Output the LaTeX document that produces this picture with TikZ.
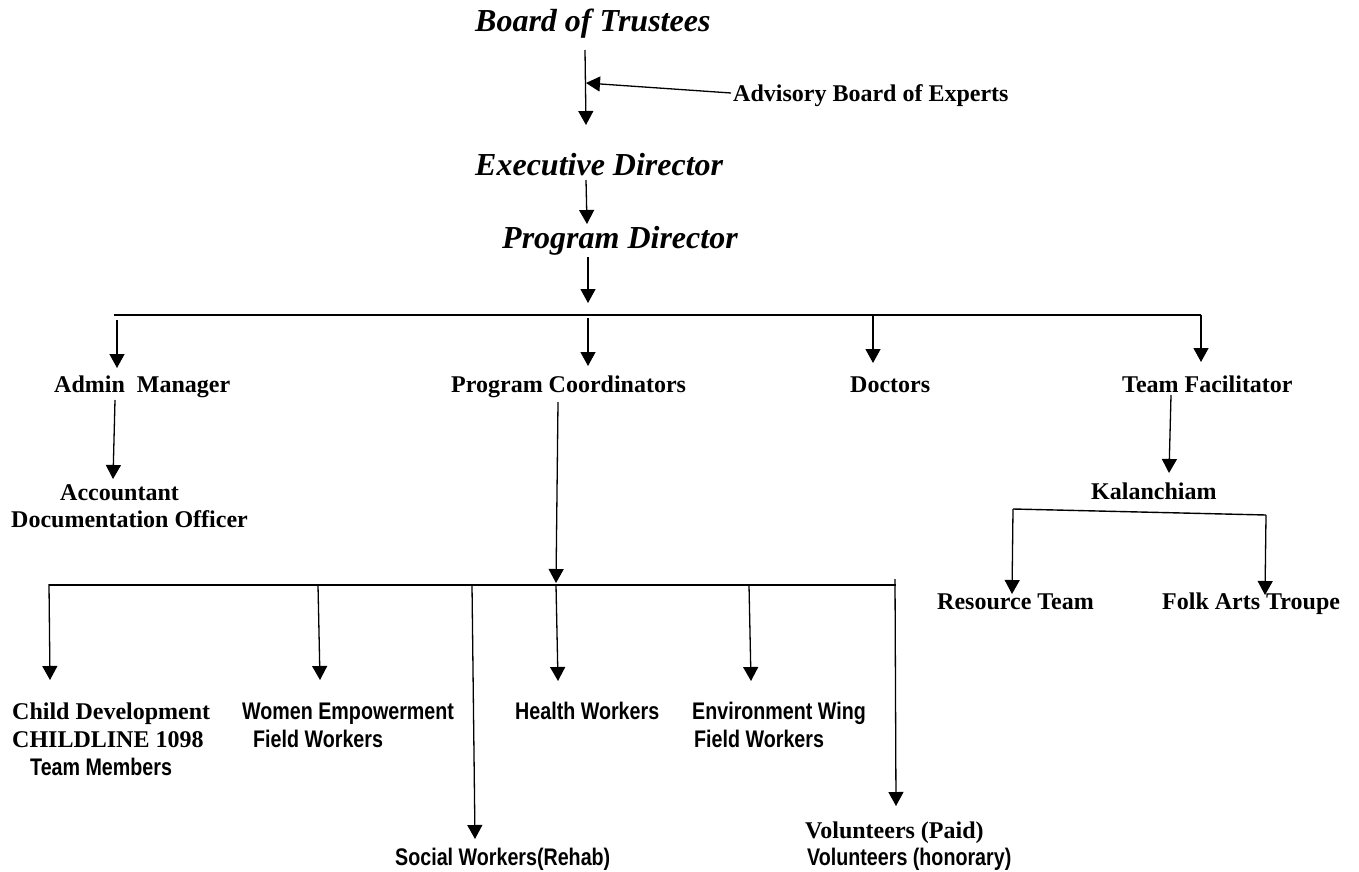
\documentclass[tikz,border=0pt]{standalone}
\usepackage{fontspec}
\setmainfont{Liberation Serif}
\newfontfamily\nsans{Liberation Sans}[FakeStretch=0.82]
\usetikzlibrary{arrows.meta}
\tikzset{
  lbl/.style={anchor=base west, inner sep=0pt, font=\fontsize{24pt}{28pt}\selectfont\bfseries},
  slbl/.style={anchor=base west, inner sep=0pt, font=\fontsize{24pt}{28pt}\selectfont\nsans\bfseries},
  ttl/.style={anchor=base west, inner sep=0pt, font=\fontsize{32pt}{36pt}\selectfont\bfseries\itshape},
  arr/.style={line width=1.3pt, -{Triangle[length=14pt,width=15pt]}},
  ln/.style={line width=1.4pt}
}
\begin{document}
\begin{tikzpicture}[x=1pt,y=-1pt]
\useasboundingbox (0,0) rectangle (1359,872);
% titles
\node[ttl] (bt) at (475,32) {Board of Trustees};
\node[lbl] (adv) at (733,102) {Advisory Board of Experts};
\node[ttl] (ed) at (475,175) {Executive Director};
\node[ttl] (pd) at (502,248) {Program Director};
% second row
\node[lbl] (adm) at (54,392) {Admin\ \ Manager};
\node[lbl] (pc) at (451,392) {Program Coordinators};
\node[lbl] (doc) at (850,392) {Doctors};
\node[lbl] (tf) at (1122,392) {Team Facilitator};
\node[lbl] (acc) at (60,500) {Accountant};
\node[lbl] (dof) at (11,527) {Documentation Officer};
\node[lbl] (kal) at (1091,499) {Kalanchiam};
\node[lbl] (rt) at (937,609) {Resource Team};
\node[lbl] (fat) at (1162,609) {Folk Arts Troupe};
% bottom row
\node[lbl] (cd) at (12,719) {Child Development};
\node[lbl] (cl) at (12,747) {CHILDLINE 1098};
\node[slbl] (tm) at (30,775) {Team Members};
\node[slbl] (we) at (242,719) {Women Empowerment};
\node[slbl] (wfw) at (253,747) {Field Workers};
\node[slbl] (hw) at (515,719) {Health Workers};
\node[slbl] (ew) at (692,719) {Environment Wing};
\node[slbl] (efw) at (694,747) {Field Workers};
\node[slbl] (sw) at (395,865) {Social Workers(Rehab)};
\node[lbl] (vp) at (805,838) {Volunteers (Paid)};
\node[slbl] (vh) at (807,865) {Volunteers (honorary)};
% coordinates
\coordinate (bt1) at (585,50);
\coordinate (bt2) at (586,125);
\coordinate (advs) at (731,93);
\coordinate (advt) at (586,83);
\coordinate (ed1) at (586,180);
\coordinate (ed2) at (587,224);
\coordinate (pd1) at (588,257);
\coordinate (pd2) at (588,303);
\coordinate (busL) at (114,315);
\coordinate (busR) at (1201,315);
\coordinate (b1) at (117,320);
\coordinate (b1t) at (117,368);
\coordinate (b2) at (588,318);
\coordinate (b2t) at (588,366);
\coordinate (b3) at (873,315);
\coordinate (b3t) at (873,363);
\coordinate (b4) at (1201,315);
\coordinate (b4t) at (1201,362);
\coordinate (am1) at (115,400);
\coordinate (am2) at (113,479);
\coordinate (pc1) at (558,402);
\coordinate (pc2) at (556,583);
\coordinate (tf1) at (1171,395);
\coordinate (tf2) at (1169,473);
\coordinate (kL) at (1013,509);
\coordinate (kR) at (1266,515);
\coordinate (kLt) at (1012,594);
\coordinate (kRt) at (1265,595);
\coordinate (lbL) at (49,585);
\coordinate (lbR) at (896,585);
\coordinate (c1) at (49,584);
\coordinate (c1t) at (50,680);
\coordinate (c2) at (318,585);
\coordinate (c2t) at (320,680);
\coordinate (c3) at (472,585);
\coordinate (c3t) at (475,839);
\coordinate (c4) at (556,585);
\coordinate (c4t) at (558,681);
\coordinate (c5) at (749,585);
\coordinate (c5t) at (751,681);
\coordinate (c6) at (895,579);
\coordinate (c6t) at (896,806);
% connectors
\draw[arr] (bt1) -- (bt2);
\draw[arr] (advs) -- (advt);
\draw[arr] (ed1) -- (ed2);
\draw[arr] (pd1) -- (pd2);
\draw[ln] (busL) -- (busR);
\draw[arr] (b1) -- (b1t);
\draw[arr] (b2) -- (b2t);
\draw[arr] (b3) -- (b3t);
\draw[arr] (b4) -- (b4t);
\draw[arr] (am1) -- (am2);
\draw[arr] (pc1) -- (pc2);
\draw[arr] (tf1) -- (tf2);
\draw[ln] (kL) -- (kR);
\draw[arr] (kL) -- (kLt);
\draw[arr] (kR) -- (kRt);
\draw[ln] (lbL) -- (lbR);
\draw[arr] (c1) -- (c1t);
\draw[arr] (c2) -- (c2t);
\draw[arr] (c3) -- (c3t);
\draw[arr] (c4) -- (c4t);
\draw[arr] (c5) -- (c5t);
\draw[arr] (c6) -- (c6t);
\end{tikzpicture}
\end{document}
